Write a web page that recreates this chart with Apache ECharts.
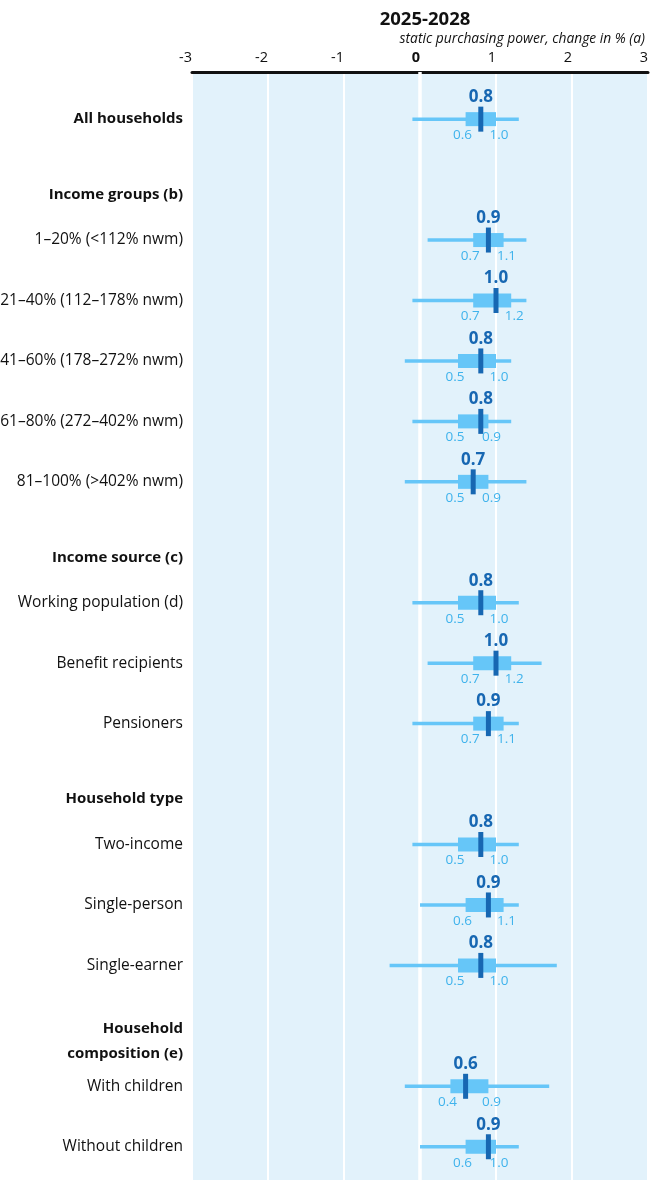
<!DOCTYPE html>
<html>
<head>
<meta charset="utf-8">
<script src="https://cdn.jsdelivr.net/npm/echarts@6/dist/echarts.min.js"></script>
<style>
  html, body { margin: 0; padding: 0; background: #ffffff; }
  #chart { width: 651px; height: 1180px; }
</style>
</head>
<body>
<div id="chart"></div>
<script>
// Section headings, in drawing order
const groups = ['Income groups (b)', 'Income source (c)', 'Household type', 'Household\ncomposition (e)'];

// Household categories and the section each belongs to (-1 = no section)
const categories = [
  'All households',
  '1–20% (<112% nwm)',
  '21–40% (112–178% nwm)',
  '41–60% (178–272% nwm)',
  '61–80% (272–402% nwm)',
  '81–100% (>402% nwm)',
  'Working population (d)',
  'Benefit recipients',
  'Pensioners',
  'Two-income',
  'Single-person',
  'Single-earner',
  'With children',
  'Without children'
];
const groupOf = [-1, 0, 0, 0, 0, 0, 1, 1, 1, 2, 2, 2, 3, 3];

// Distribution of the change in purchasing power, % (whiskers, box, median)
const whiskerLow  = [-0.1, 0.1, -0.1, -0.2, -0.1, -0.2, -0.1, 0.1, -0.1, -0.1, 0.0, -0.4, -0.2, 0.0];
const boxLow      = [0.6, 0.7, 0.7, 0.5, 0.5, 0.5, 0.5, 0.7, 0.7, 0.5, 0.6, 0.5, 0.4, 0.6];
const median      = [0.8, 0.9, 1.0, 0.8, 0.8, 0.7, 0.8, 1.0, 0.9, 0.8, 0.9, 0.8, 0.6, 0.9];
const boxHigh     = [1.0, 1.1, 1.2, 1.0, 0.9, 0.9, 1.0, 1.2, 1.1, 1.0, 1.1, 1.0, 0.9, 1.0];
const whiskerHigh = [1.3, 1.4, 1.4, 1.2, 1.2, 1.4, 1.3, 1.6, 1.3, 1.3, 1.3, 1.8, 1.7, 1.3];

// Axis ticks
const xTicks = [-3, -2, -1, 0, 1, 2, 3];

const FONT = '"Open Sans", Lato, sans-serif';
const C_BOX = '#66c6f8';
const C_MED = '#1767b2';
const C_QLAB = '#3fb3ec';
const C_TEXT = '#111111';

// Each section heading takes one row slot before its first category
const slotOf = categories.map((c, i) => i + groupOf[i] + 1);
const headerSlot = groups.map((g, gi) => slotOf[groupOf.indexOf(gi)] - 1);

const rowData = categories.map((c, i) => [slotOf[i], whiskerLow[i], boxLow[i], median[i], boxHigh[i], whiskerHigh[i]]);
const headerData = groups.map((g, gi) => [headerSlot[gi]]);

const fmt = v => v.toFixed(1);

function renderRow(params, api) {
  const slot = api.value(0);
  const wl = api.value(1), bl = api.value(2), md = api.value(3), bh = api.value(4), wh = api.value(5);
  const pWL = api.coord([wl, slot]);
  const pWH = api.coord([wh, slot]);
  const pBL = api.coord([bl, slot]);
  const pBH = api.coord([bh, slot]);
  const pMD = api.coord([md, slot]);
  const y = pMD[1];
  const gridLeft = api.coord([xTicks[0], slot])[0];
  const name = categories[params.dataIndex];
  const isTotal = params.dataIndex === 0;
  return {
    type: 'group',
    children: [
      { type: 'rect', shape: { x: pWL[0], y: y - 1.75, width: pWH[0] - pWL[0], height: 3.5 }, style: { fill: C_BOX } },
      { type: 'rect', shape: { x: pBL[0], y: y - 7, width: pBH[0] - pBL[0], height: 14 }, style: { fill: C_BOX } },
      { type: 'rect', shape: { x: pMD[0] - 2.5, y: y - 12.5, width: 5, height: 25 }, style: { fill: C_MED } },
      { type: 'text', x: pMD[0], y: y - 22, style: { text: fmt(md), fill: C_MED, font: 'bold 17px ' + FONT, align: 'center', verticalAlign: 'middle' } },
      { type: 'text', x: pBL[0] - 3, y: y + 16, style: { text: fmt(bl), fill: C_QLAB, font: '13.5px ' + FONT, align: 'center', verticalAlign: 'middle' } },
      { type: 'text', x: pBH[0] + 3, y: y + 16, style: { text: fmt(bh), fill: C_QLAB, font: '13.5px ' + FONT, align: 'center', verticalAlign: 'middle' } },
      { type: 'text', x: gridLeft - 9, y: y, style: { text: name, fill: C_TEXT, font: (isTotal ? 'bold 15px ' : '15.5px ') + FONT, align: 'right', verticalAlign: 'middle' } }
    ]
  };
}

function renderHeader(params, api) {
  const slot = api.value(0);
  const p = api.coord([xTicks[0], slot]);
  return {
    type: 'text',
    x: p[0] - 9,
    y: p[1] + 15,
    style: {
      text: groups[params.dataIndex],
      fill: C_TEXT,
      font: 'bold 15px ' + FONT,
      align: 'right',
      verticalAlign: 'middle',
      lineHeight: 25
    }
  };
}

const chart = echarts.init(document.getElementById('chart'), null, { renderer: 'canvas' });
chart.setOption({
  animation: false,
  title: [
    { text: '2025-2028', left: 420, top: 5, textAlign: 'center',
      textStyle: { fontFamily: FONT, fontWeight: 'bold', fontSize: 18.5, color: C_TEXT } },
    { text: 'static purchasing power, change in % (a)', right: 1, top: 27,
      textStyle: { fontFamily: FONT, fontStyle: 'italic', fontWeight: 'normal', fontSize: 13.8, color: C_TEXT } }
  ],
  grid: { left: 192, right: 3, top: 72, bottom: 0, show: true, backgroundColor: '#e2f2fb', borderWidth: 0 },
  xAxis: {
    type: 'value', position: 'top',
    min: xTicks[0], max: xTicks[xTicks.length - 1], interval: 1,
    axisLine: { show: true, onZero: false, lineStyle: { color: '#111', width: 3 } },
    axisTick: { show: false },
    splitLine: { show: true, lineStyle: { color: '#ffffff', width: 2 } },
    axisLabel: {
      align: 'right', margin: 7, fontFamily: FONT, fontSize: 14.5, color: C_TEXT,
      showMinLabel: true, showMaxLabel: true,
      formatter: v => (v === 0 ? '{b|0}' : String(v)),
      rich: { b: { fontFamily: FONT, fontSize: 14.5, fontWeight: 'bold', color: C_TEXT } }
    }
  },
  yAxis: {
    type: 'value', inverse: true, min: -0.78, max: 17.55,
    show: false, splitLine: { show: false }
  },
  series: [
    {
      type: 'line', data: [], z: 1, silent: true,
      markLine: {
        silent: true, symbol: 'none', label: { show: false }, z: 1,
        lineStyle: { color: '#ffffff', width: 3.5, type: 'solid' },
        data: [{ xAxis: 0 }]
      }
    },
    { type: 'custom', renderItem: renderRow, data: rowData, clip: false, z: 10, silent: true },
    { type: 'custom', renderItem: renderHeader, data: headerData, clip: false, z: 10, silent: true }
  ]
});
</script>
</body>
</html>
